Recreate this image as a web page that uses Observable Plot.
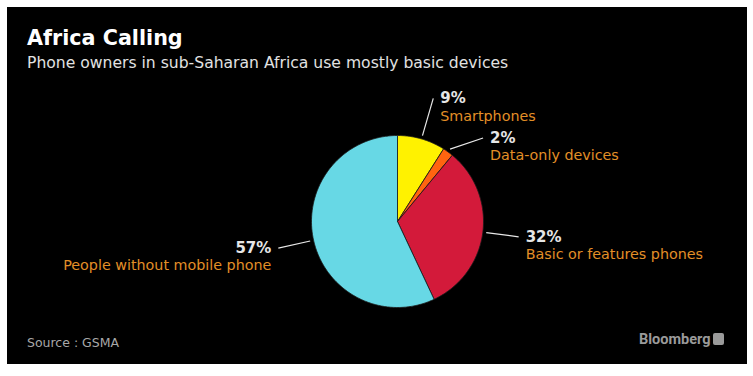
<!DOCTYPE html>
<html><head><meta charset="utf-8">
<script src="https://cdn.jsdelivr.net/npm/d3@7"></script>
<script src="https://cdn.jsdelivr.net/npm/@observablehq/plot@0.6"></script>
<style>
html,body{margin:0;padding:0;background:#fff;}
#wrap{position:relative;width:753px;height:376px;overflow:hidden;}
#panel{position:absolute;left:7px;top:7px;width:740px;height:357px;background:#000;}
.t{position:absolute;white-space:nowrap;font-family:"DejaVu Sans",sans-serif;}
#title{left:27px;top:28px;font-size:20.7px;line-height:20px;font-weight:bold;color:#fff;}
#subtitle{left:27px;top:56px;font-size:15.6px;line-height:15px;color:#e2e2e2;}
#source{left:27px;top:336px;font-size:12.5px;line-height:13px;color:#a8a8a8;}
#brand{left:639px;top:332px;font-family:Roboto,"DejaVu Sans",sans-serif;font-size:14.5px;line-height:15px;font-weight:bold;color:#9a9a9a;}
#icon{position:absolute;left:713px;top:333px;width:11px;height:12px;background:#9a9a9a;border-radius:2px;}
#chart{position:absolute;left:0;top:0;}
</style>
</head><body>
<div id="wrap">
  <div id="panel"></div>
  <div class="t" id="title">Africa Calling</div>
  <div class="t" id="subtitle">Phone owners in sub-Saharan Africa use mostly basic devices</div>
  <div class="t" id="source">Source : GSMA</div>
  <div class="t" id="brand">Bloomberg</div>
  <div id="icon"></div>
  <div id="chart"></div>
</div>
<script>
const categories = ["Smartphones", "Data-only devices", "Basic or features phones", "People without mobile phone"];
const shares = [9, 2, 32, 57];
const colors = ["#fff200", "#ff6410", "#d31a3a", "#67d8e5"];
// label layout: leader-line angle nudge (degrees) and outer radius (pie radii)
const labelShift = [0, 9.7, 0, 0];
const labelOuter = [1.49, 1.39, 1.42, 1.42];

const total = d3.sum(shares);
let acc = 0;
const slices = categories.map((c, i) => {
  const a0 = acc / total * 360; acc += shares[i];
  const a1 = acc / total * 360;
  return {category: c, share: shares[i], a0, a1, mid: (a0 + a1) / 2, i};
});
const rad = a => a * Math.PI / 180;
const polar = (a, r) => [r * Math.sin(rad(a)), r * Math.cos(rad(a))];
const outline = slices.flatMap(s => {
  const n = Math.max(2, Math.ceil(s.a1 - s.a0));
  const pts = [{category: s.category, x: 0, y: 0}];
  for (let k = 0; k <= n; k++) {
    const [x, y] = polar(s.a0 + (s.a1 - s.a0) * k / n, 1);
    pts.push({category: s.category, x, y});
  }
  pts.push({category: s.category, x: 0, y: 0});
  return pts;
});
const labels = slices.map(s => {
  const [x1, y1] = polar(s.mid, 1.04);
  const [x2, y2] = polar(s.mid + labelShift[s.i], labelOuter[s.i]);
  return {...s, x1, y1, x2, y2, right: x2 > 0};
});
const R = labels.filter(d => d.right), L = labels.filter(d => !d.right);
const pctStyle = {fill: "#e6e6e6", fontWeight: "bold", fontSize: 15};
const catStyle = {fill: "#e38f27", fontSize: 14.3, dy: 17.5};

const chart = Plot.plot({
  width: 753, height: 376,
  marginLeft: 311, marginRight: 270, marginTop: 135, marginBottom: 69,
  x: {domain: [-1, 1], axis: null},
  y: {domain: [-1, 1], axis: null},
  color: {domain: categories, range: colors},
  style: {background: "transparent", fontFamily: "DejaVu Sans, sans-serif", overflow: "visible"},
  marks: [
    Plot.line(outline, {x: "x", y: "y", z: "category", fill: "category", stroke: "#1a1a1a", strokeWidth: 0.8, strokeLinejoin: "round"}),
    Plot.link(labels, {x1: "x1", y1: "y1", x2: "x2", y2: "y2", stroke: "#e8e8e8", strokeWidth: 1.2}),
    Plot.text(R, {x: "x2", y: "y2", text: d => d.share + "%", textAnchor: "start", dx: 7, ...pctStyle}),
    Plot.text(R, {x: "x2", y: "y2", text: "category", textAnchor: "start", dx: 7, ...catStyle}),
    Plot.text(L, {x: "x2", y: "y2", text: d => d.share + "%", textAnchor: "end", dx: -7, ...pctStyle}),
    Plot.text(L, {x: "x2", y: "y2", text: "category", textAnchor: "end", dx: -7, ...catStyle})
  ]
});
document.getElementById("chart").appendChild(chart);
</script>
</body></html>
